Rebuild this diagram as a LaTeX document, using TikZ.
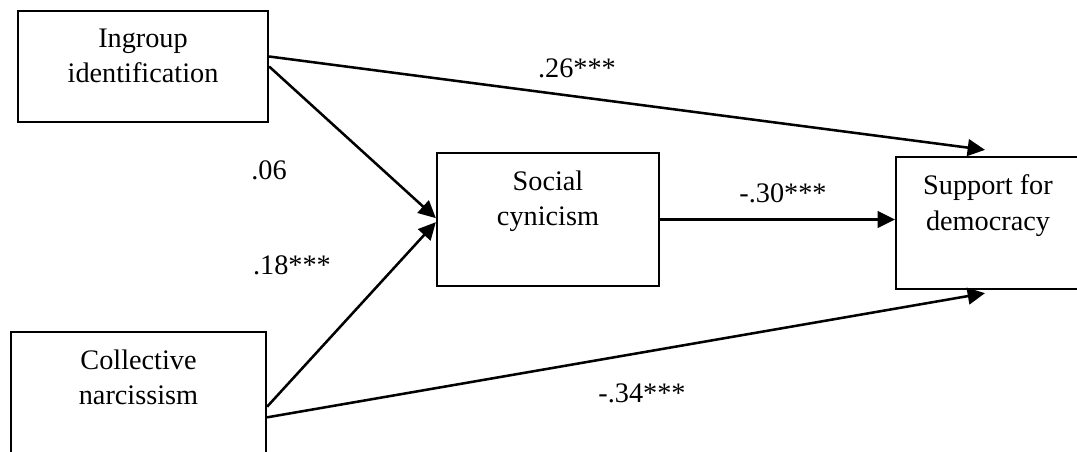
\documentclass[tikz,border=0pt]{standalone}
\usepackage{fontspec}
\setmainfont{Liberation Serif}
\usetikzlibrary{arrows.meta}
\usetikzlibrary{positioning}
\tikzset{
  box/.style={draw, line width=1.7pt, rectangle, inner sep=0pt},
  boxtext/.style={align=center, inner sep=0pt, font=\fontsize{21.2}{26.5}\selectfont},
  coef/.style={inner sep=0pt, font=\fontsize{21.2}{26.5}\selectfont},
  path/.style={line width=1.9pt, -{Triangle[length=13pt,width=12.5pt]}}
}

\begin{document}
\begin{tikzpicture}[x=0.75pt,y=-0.75pt]
  \useasboundingbox (0,0) rectangle (1077,452);
  % boxes
  \node[box, minimum width=187.5pt, minimum height=83.25pt] (ing) at (143,66.5) {};
  \node[box, minimum width=191.25pt, minimum height=96pt] (col) at (138.5,396) {};
  \node[box, minimum width=166.5pt, minimum height=99.75pt] (soc) at (548,219.5) {};
  \node[box, minimum width=138pt, minimum height=99pt] (sup) at (988,223) {};
  \node[boxtext, below=14pt of ing.north] (ingt) {Ingroup\\identification};
  \node[boxtext, below=14pt of col.north] (colt) {Collective\\narcissism};
  \node[boxtext, below=14pt of soc.north] (soct) {Social\\cynicism};
  \node[boxtext, below=14pt of sup.north] (supt) {Support for\\democracy};
  % paths
  \draw[path] ([yshift=7.5pt]ing.east) -- ([xshift=-2.25pt,yshift=4.5pt]sup.north);
  \draw[path] (ing.east) -- ([yshift=1pt]soc.west);
  \draw[path] ([yshift=-8pt]col.east) -- ([yshift=-2pt]soc.west);
  \draw[path] ([yshift=-16pt]col.east) -- ([xshift=-2.25pt,yshift=-2.25pt]sup.south);
  \draw[path] (soc.east) -- (soc.east -| sup.west);
  % coefficients
  \node[coef] (c1) at (577,68) {.26***};
  \node[coef] (c2) at (269,170) {.06};
  \node[coef] (c3) at (292,265) {.18***};
  \node[coef] (c4) at (783,193) {-.30***};
  \node[coef] (c5) at (642,393) {-.34***};
\end{tikzpicture}
\end{document}
